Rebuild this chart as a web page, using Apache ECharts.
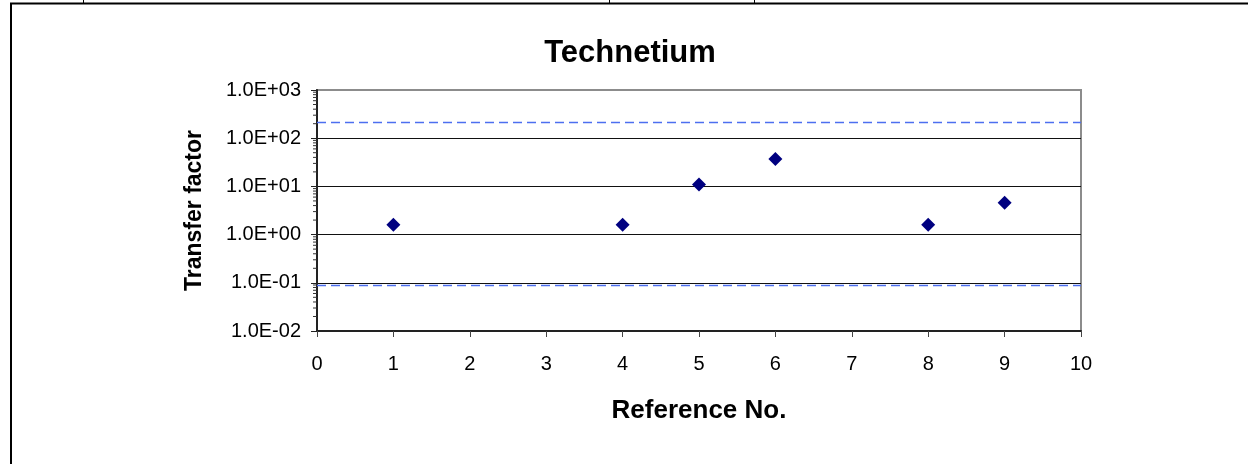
<!DOCTYPE html>
<html>
<head>
<meta charset="utf-8">
<script src="https://cdn.jsdelivr.net/npm/echarts@6/dist/echarts.min.js"></script>
<style>
  html, body { margin: 0; padding: 0; background: #fff; }
  #chart { width: 1248px; height: 464px; }
</style>
</head>
<body>
<div id="chart"></div>
<script>
// ---- data ----
const titleText = 'Technetium';
const xAxisName = 'Reference No.';
const yAxisName = 'Transfer factor';
const refNo = [1, 4, 5, 6, 8, 9];
const transferFactor = [1.6, 1.6, 11, 37, 1.6, 4.6];
const upperLimit = 210;
const lowerLimit = 0.093;
const yTickLabels = ['1.0E-02', '1.0E-01', '1.0E+00', '1.0E+01', '1.0E+02', '1.0E+03'];
const xTickLabels = ['0', '1', '2', '3', '4', '5', '6', '7', '8', '9', '10'];
const yDecades = [0.01, 0.1, 1, 10, 100];
const minorMultipliers = [2, 3, 4, 5, 6, 7, 8, 9];

// minor tick positions of the log axis (axis decoration)
const minorTicks = [];
yDecades.forEach(d => minorMultipliers.forEach(m => minorTicks.push([0, m * d])));

const FONT = 'Arial, "Liberation Sans", sans-serif';

const chart = echarts.init(document.getElementById('chart'), null, { renderer: 'canvas' });
chart.setOption({
  animation: false,
  backgroundColor: '#ffffff',
  title: {
    text: titleText,
    left: 630,
    top: 38,
    padding: 0,
    textAlign: 'center',
    textStyle: { fontFamily: FONT, fontSize: 31, fontWeight: 'bold', color: '#000' }
  },
  grid: {
    left: 317, right: 167, top: 90, bottom: 133,
    show: true, borderColor: '#8c8c8c', borderWidth: 2, backgroundColor: 'transparent'
  },
  xAxis: {
    type: 'value',
    min: 0, max: 10, interval: 1,
    name: xAxisName,
    nameLocation: 'middle',
    nameGap: 67,
    nameTextStyle: { fontFamily: FONT, fontSize: 26, fontWeight: 'bold', color: '#000' },
    axisLine: { show: true, onZero: false, lineStyle: { color: '#222', width: 2 } },
    axisTick: { show: true, inside: false, length: 6, lineStyle: { color: '#444', width: 1 } },
    axisLabel: {
      margin: 23, fontFamily: FONT, fontSize: 20, color: '#000',
      formatter: (v) => xTickLabels[Math.round(v)]
    },
    splitLine: { show: false }
  },
  yAxis: {
    type: 'log',
    logBase: 10,
    min: 0.01, max: 1000,
    splitNumber: 5,
    name: yAxisName,
    nameLocation: 'middle',
    nameRotate: 90,
    nameGap: 111,
    nameTextStyle: { fontFamily: FONT, fontSize: 23, fontWeight: 'bold', color: '#000' },
    axisLine: { show: true, onZero: false, lineStyle: { color: '#222', width: 2 } },
    axisTick: { show: true, inside: false, length: 6, lineStyle: { color: '#222', width: 1 } },
    axisLabel: {
      margin: 16, fontFamily: FONT, fontSize: 20, color: '#000',
      formatter: (v) => {
        const i = Math.round(Math.log10(v)) + 2;
        return yTickLabels[i];
      }
    },
    splitLine: { show: true, showMinLine: false, showMaxLine: false, lineStyle: { color: '#111', width: 1 } }
  },
  series: [
    {
      type: 'custom',
      silent: true,
      clip: false,
      renderItem: (params, api) => {
        const p = api.coord([0, api.value(1)]);
        return {
          type: 'line',
          shape: { x1: p[0] - 4, y1: p[1], x2: p[0], y2: p[1] },
          style: { stroke: '#333', lineWidth: 1 }
        };
      },
      encode: { x: 0, y: 1 },
      data: minorTicks,
      z: 1
    },
    {
      type: 'scatter',
      symbol: 'diamond',
      symbolSize: 14,
      itemStyle: { color: '#000080', opacity: 1 },
      data: refNo.map((x, i) => [x, transferFactor[i]]),
      z: 5,
      markLine: {
        silent: true,
        symbol: 'none',
        label: { show: false },
        emphasis: { disabled: true },
        lineStyle: { color: '#4d6ff0', type: [9, 5], width: 1.3, opacity: 1 },
        data: [{ yAxis: upperLimit }, { yAxis: lowerLimit }]
      }
    }
  ],
  graphic: [
    { type: 'line', shape: { x1: 10, y1: 3.5, x2: 1248, y2: 3.5 }, style: { stroke: '#000', lineWidth: 2 }, silent: true },
    { type: 'line', shape: { x1: 11, y1: 3, x2: 11, y2: 464 }, style: { stroke: '#000', lineWidth: 2 }, silent: true },
    { type: 'line', shape: { x1: 83.5, y1: 0, x2: 83.5, y2: 3 }, style: { stroke: '#000', lineWidth: 1 }, silent: true },
    { type: 'line', shape: { x1: 609.5, y1: 0, x2: 609.5, y2: 3 }, style: { stroke: '#000', lineWidth: 1 }, silent: true },
    { type: 'line', shape: { x1: 754.5, y1: 0, x2: 754.5, y2: 3 }, style: { stroke: '#000', lineWidth: 1 }, silent: true }
  ]
});
</script>
</body>
</html>
